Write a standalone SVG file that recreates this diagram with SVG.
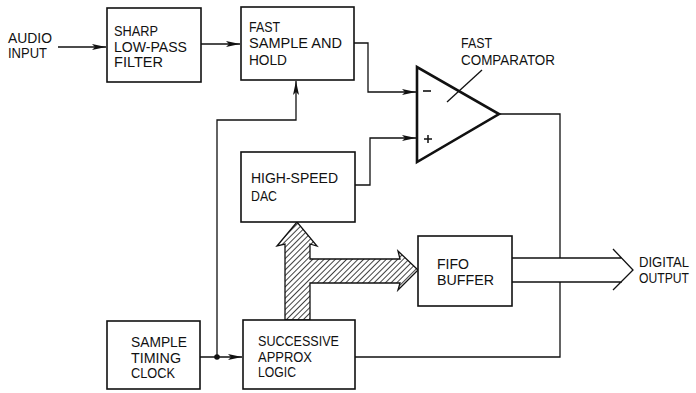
<svg xmlns="http://www.w3.org/2000/svg" width="696" height="393" viewBox="0 0 696 393">
<defs>
<style>
text{font-family:"Liberation Sans",Arial,sans-serif;font-size:14px;fill:#111}
.box{fill:#fff;stroke:#111;stroke-width:1.6}
.ln{fill:none;stroke:#111;stroke-width:1.3}
</style>
<marker id="ah" viewBox="0 0 14 6" refX="14" refY="3" markerWidth="14" markerHeight="6" markerUnits="userSpaceOnUse" orient="auto">
<path d="M0,0 L14,3 L0,6 L3,3 Z" fill="#111"/>
</marker>
<pattern id="hatch" patternUnits="userSpaceOnUse" width="4" height="4" patternTransform="rotate(45)">
<rect width="4" height="4" fill="#fff"/>
<line x1="0" y1="0" x2="0" y2="4" stroke="#111" stroke-width="1.6"/>
</pattern>
</defs>
<rect width="696" height="393" fill="#fff"/>
<g id="connectors">
<line class="ln" x1="58" y1="47" x2="106" y2="47" marker-end="url(#ah)"/>
<line class="ln" x1="201" y1="44" x2="240" y2="44" marker-end="url(#ah)"/>
<polyline class="ln" points="354,43 368,43 368,92 416,92" marker-end="url(#ah)"/>
<polyline class="ln" points="355,185 370,185 370,138 416,138" marker-end="url(#ah)"/>
<polyline class="ln" points="217,357 217,120 296,120 296,81" marker-end="url(#ah)"/>
<line class="ln" x1="200" y1="357" x2="242" y2="357" marker-end="url(#ah)"/>
<circle cx="217" cy="357" r="2.8" fill="#111"/>
<polyline class="ln" points="499,114 560,114 560,258"/>
<polyline class="ln" points="560,282 560,357 355,357"/>
<path class="ln" d="M512,258 L622,258 M512,282 L622,282 M613,249 L633,270 L613,290"/>
<path d="M285,320 L285,244 L277,246 L297,222 L317,246 L310,244 L310,259 L400,259 L398,251 L418,270 L398,290 L400,283 L310,283 L310,320 Z" fill="url(#hatch)" stroke="#111" stroke-width="1.3" stroke-linejoin="miter"/>
</g>
<g id="audio-input">
<text x="8" y="43" textLength="44" lengthAdjust="spacingAndGlyphs">AUDIO</text>
<text x="8" y="58" textLength="39" lengthAdjust="spacingAndGlyphs">INPUT</text>
</g>
<g id="lpf">
<rect class="box" x="107" y="8" width="94" height="74"/>
<text x="114" y="36" textLength="44" lengthAdjust="spacingAndGlyphs">SHARP</text>
<text x="114" y="52" textLength="73" lengthAdjust="spacingAndGlyphs">LOW-PASS</text>
<text x="114" y="67" textLength="49" lengthAdjust="spacingAndGlyphs">FILTER</text>
</g>
<g id="sample-hold">
<rect class="box" x="241" y="7" width="113" height="73"/>
<text x="249" y="32" textLength="31" lengthAdjust="spacingAndGlyphs">FAST</text>
<text x="249" y="48" textLength="93" lengthAdjust="spacingAndGlyphs">SAMPLE AND</text>
<text x="249" y="65" textLength="38" lengthAdjust="spacingAndGlyphs">HOLD</text>
</g>
<g id="comparator">
<polygon points="417,67 417,162 499,114" fill="#fff" stroke="#111" stroke-width="2.6" stroke-linejoin="miter"/>
<line x1="423" y1="91" x2="431" y2="91" stroke="#111" stroke-width="1.6"/>
<path d="M424,139 L432,139 M428,135 L428,143" stroke="#111" stroke-width="1.5"/>
<line class="ln" x1="482" y1="70" x2="447" y2="102"/>
<text x="461" y="48" textLength="31" lengthAdjust="spacingAndGlyphs">FAST</text>
<text x="461" y="65" textLength="94" lengthAdjust="spacingAndGlyphs">COMPARATOR</text>
</g>
<g id="dac">
<rect class="box" x="241" y="152" width="114" height="70"/>
<text x="251" y="183" textLength="87" lengthAdjust="spacingAndGlyphs">HIGH-SPEED</text>
<text x="251" y="201" textLength="26" lengthAdjust="spacingAndGlyphs">DAC</text>
</g>
<g id="fifo">
<rect class="box" x="418" y="236" width="94" height="70"/>
<text x="437" y="269" textLength="32" lengthAdjust="spacingAndGlyphs">FIFO</text>
<text x="437" y="285" textLength="57" lengthAdjust="spacingAndGlyphs">BUFFER</text>
</g>
<g id="digital-output">
<text x="639" y="267" font-size="12.5" textLength="50" lengthAdjust="spacingAndGlyphs">DIGITAL</text>
<text x="639" y="283" font-size="12.5" textLength="50" lengthAdjust="spacingAndGlyphs">OUTPUT</text>
</g>
<g id="clock">
<rect class="box" x="107" y="321" width="93" height="68"/>
<text x="131" y="347" textLength="56" lengthAdjust="spacingAndGlyphs">SAMPLE</text>
<text x="131" y="363" textLength="50" lengthAdjust="spacingAndGlyphs">TIMING</text>
<text x="131" y="378" textLength="44" lengthAdjust="spacingAndGlyphs">CLOCK</text>
</g>
<g id="sar">
<rect class="box" x="243" y="320" width="112" height="69"/>
<text x="258" y="346" textLength="81" lengthAdjust="spacingAndGlyphs">SUCCESSIVE</text>
<text x="258" y="362" textLength="54" lengthAdjust="spacingAndGlyphs">APPROX</text>
<text x="258" y="377" textLength="38" lengthAdjust="spacingAndGlyphs">LOGIC</text>
</g>
</svg>
